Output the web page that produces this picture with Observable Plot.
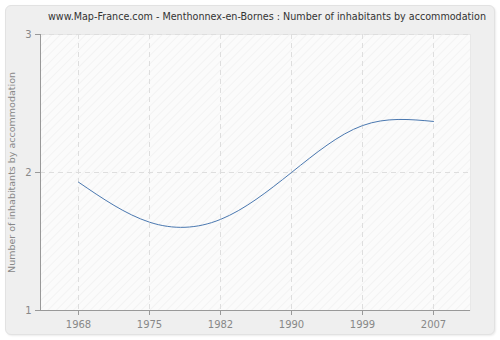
<!DOCTYPE html>
<html>
<head>
<meta charset="utf-8">
<script src="https://cdn.jsdelivr.net/npm/d3@7"></script>
<script src="https://cdn.jsdelivr.net/npm/@observablehq/plot@0.6"></script>
<style>
  html, body { margin: 0; padding: 0; background: #fff; }
  #wrap { position: relative; width: 500px; height: 340px; overflow: hidden; font-family: "DejaVu Sans", sans-serif; }
  #panel { position: absolute; left: 5px; top: 5px; width: 488px; height: 328px; background: #efefef; border: 1px solid #e2e2e2; border-radius: 6px; box-shadow: 1px 1px 2px rgba(0,0,0,0.08); }
  #title { position: absolute; left: 48px; top: 11px; font-size: 9.6px; color: #333; white-space: nowrap; }
  #chart { position: absolute; left: 0; top: 0; }
</style>
</head>
<body>
<svg width="0" height="0" style="position:absolute">
  <defs>
    <pattern id="hatch" patternUnits="userSpaceOnUse" width="6" height="6" patternTransform="rotate(45)">
      <rect width="6" height="6" fill="#fbfbfb"></rect>
      <line x1="0" y1="0" x2="0" y2="6" stroke="#ececec" stroke-width="1"></line>
    </pattern>
  </defs>
</svg>
<div id="wrap">
  <div id="panel"></div>
  <div id="chart"></div>
  <div id="title">www.Map-France.com - Menthonnex-en-Bornes : Number of inhabitants by accommodation</div>
</div>
<script>
const years = ["1968", "1975", "1982", "1990", "1999", "2007"];
const values = [1.93, 1.64, 1.66, 2.00, 2.34, 2.37];
const yTicks = [1, 2, 3];
const yLabel = "Number of inhabitants by accommodation";

const data = years.map((y, i) => ({year: y, value: values[i]}));

const chart = Plot.plot({
  width: 500,
  height: 340,
  marginLeft: 40,
  marginRight: 30,
  marginTop: 34,
  marginBottom: 30,
  style: {background: "transparent", fontFamily: "DejaVu Sans, sans-serif", fontSize: "10px", color: "#888"},
  x: {type: "point", domain: years, padding: 0.5, label: null},
  y: {domain: [1, 3], label: yLabel},
  marks: [
    Plot.frame({fill: "url(#hatch)", stroke: "#e8e8e8"}),
    Plot.gridX(years, {stroke: "#dedede", strokeOpacity: 1, strokeDasharray: "5,4"}),
    Plot.gridY(yTicks, {stroke: "#dedede", strokeOpacity: 1, strokeDasharray: "5,4"}),
    Plot.axisX({tickSize: 5, tickPadding: 5, stroke: "#999", color: "#888", fontSize: 10}),
    Plot.axisY(yTicks, {tickSize: 5, tickPadding: 4, tickFormat: d3.format("d"), stroke: "#999", color: "#888", fontSize: 10, label: null}),
    Plot.axisY(yTicks, {tickSize: 0, tick: null, text: null, ticks: [], label: yLabel, labelAnchor: "center", labelArrow: "none", labelOffset: 32, color: "#888", fontSize: 9.5}),
    Plot.frame({anchor: "left", stroke: "#999"}),
    Plot.ruleY([1], {stroke: "#999"}),
    Plot.line(data, {x: "year", y: "value", curve: "natural", stroke: "#4a78b0", strokeWidth: 1})
  ]
});
document.getElementById("chart").appendChild(chart);
</script>
</body>
</html>
